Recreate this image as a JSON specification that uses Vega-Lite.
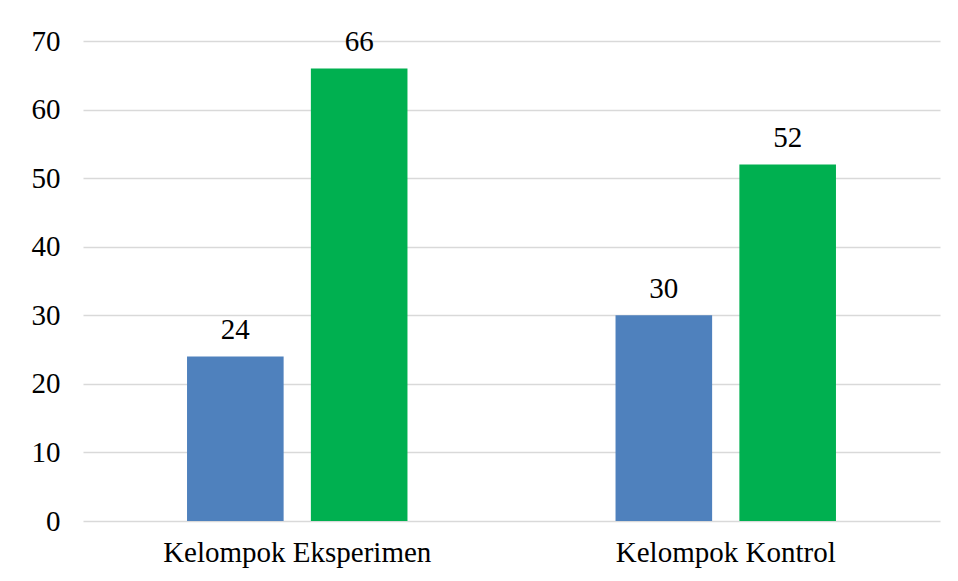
{
  "$schema": "https://vega.github.io/schema/vega-lite/v6.json",
  "autosize": {"type": "none"},
  "width": 857,
  "height": 480,
  "padding": {"left": 83, "top": 41, "right": 18, "bottom": 60},
  "background": "white",
  "config": {"view": {"stroke": null}, "font": "Liberation Serif"},
  "data": {"values": [
    {"kelompok": "Kelompok Eksperimen", "seri": "A", "nilai": 24},
    {"kelompok": "Kelompok Eksperimen", "seri": "B", "nilai": 66},
    {"kelompok": "Kelompok Kontrol", "seri": "A", "nilai": 30},
    {"kelompok": "Kelompok Kontrol", "seri": "B", "nilai": 52}
  ]},
  "encoding": {
    "x": {"field": "kelompok", "type": "nominal", "sort": null,
      "scale": {"paddingInner": 0, "paddingOuter": 0},
      "axis": {"title": null, "labelAngle": 0, "labelFont": "Liberation Serif", "labelFontSize": 29, "labelLimit": 500, "labelColor": "#000000", "labelPadding": 17, "ticks": false, "domain": false}},
    "xOffset": {"field": "seri", "type": "nominal", "scale": {"paddingInner": 0.22, "paddingOuter": 0.84}},
    "y": {"field": "nilai", "type": "quantitative",
      "scale": {"domain": [0, 70]},
      "axis": {"title": null, "values": [0,10,20,30,40,50,60,70], "labelFont": "Liberation Serif", "labelFontSize": 29, "labelColor": "#000000", "labelPadding": 23, "ticks": false, "domain": false, "gridColor": "#D9D9D9", "gridWidth": 1.3}}
  },
  "layer": [
    {"mark": {"type": "bar"},
     "encoding": {"color": {"field": "seri", "type": "nominal", "scale": {"domain": ["A","B"], "range": ["#4F81BD", "#00B050"]}, "legend": null}}},
    {"mark": {"type": "text", "baseline": "bottom", "dy": -11, "fontSize": 29, "font": "Liberation Serif", "color": "#000000"},
     "encoding": {"text": {"field": "nilai", "type": "quantitative"}}}
  ]
}
